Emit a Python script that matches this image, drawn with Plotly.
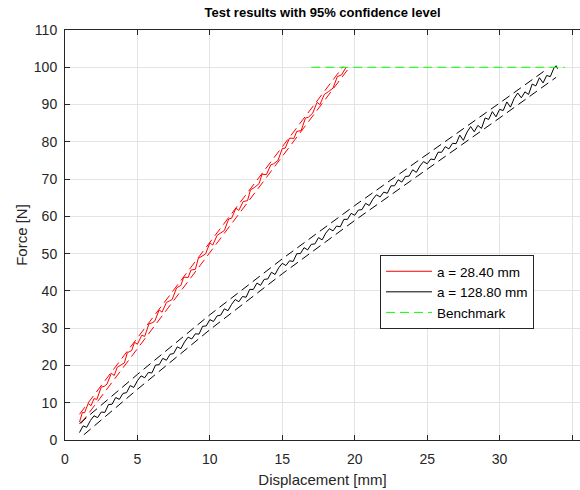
import plotly.graph_objects as go

# ---- data ----
red_x = [1.0, 1.2, 1.35, 1.6, 1.8, 2.0, 2.2, 2.5, 2.7, 2.9, 3.2, 3.4, 3.6, 3.9, 4.1, 4.3, 4.6, 4.8,
         5.0, 5.3, 5.5, 5.8, 6.0, 6.2, 6.5, 6.7, 7.0, 7.2, 7.4, 7.7, 8.0, 8.2, 8.5, 8.7, 9.0, 9.2,
         9.5, 9.7, 10.0, 10.2, 10.5, 10.8, 11.0, 11.3, 11.5, 11.8, 12.0, 12.3, 12.6, 12.8, 13.1,
         13.4, 13.6, 13.9, 14.2, 14.4, 14.7, 15.0, 15.2, 15.5, 15.8, 16.0, 16.3, 16.6, 16.8, 17.1,
         17.4, 17.6, 17.9, 18.2, 18.5, 18.8, 19.1, 19.4]
red_f = [4.8, 7.4, 7.3, 9.8, 9.2, 11.1, 10.9, 14.2, 14.4, 15.0, 17.9, 17.3, 19.5, 20.3, 20.7, 23.4,
         24.0, 26.2, 25.7, 28.1, 27.8, 31.2, 31.4, 31.9, 34.9, 34.3, 36.9, 37.3, 37.7, 40.8, 41.5,
         43.7, 43.6, 45.6, 45.8, 48.7, 49.4, 49.9, 52.9, 52.3, 54.9, 55.8, 56.2, 59.3, 59.5, 62.2,
         61.6, 64.0, 64.2, 67.1, 67.8, 68.8, 71.3, 71.2, 73.8, 74.1, 75.0, 78.2, 78.3, 81.0, 80.9,
         82.8, 83.0, 86.4, 86.6, 87.7, 90.6, 90.0, 92.7, 93.5, 94.4, 97.5, 98.0, 100.0]
red_up_x = [1.0, 19.2]
red_up_f = [6.9, 100.2]
red_lo_x = [1.1, 19.5]
red_lo_f = [4.4, 99.3]

blk_x = [1.00, 1.25, 1.50, 1.75, 2.00, 2.25, 2.50, 2.75, 3.00, 3.25, 3.50, 3.75, 4.00, 4.25, 4.50,
         4.75, 5.00, 5.25, 5.50, 5.75, 6.00, 6.25, 6.50, 6.75, 7.00, 7.25, 7.50, 7.75, 8.00, 8.25,
         8.50, 8.75, 9.00, 9.25, 9.50, 9.75, 10.00, 10.25, 10.50, 10.75, 11.00, 11.25, 11.50, 11.75,
         12.00, 12.25, 12.50, 12.75, 13.00, 13.25, 13.50, 13.75, 14.00, 14.25, 14.50, 14.75, 15.00,
         15.25, 15.50, 15.75, 16.00, 16.25, 16.50, 16.75, 17.00, 17.25, 17.50, 17.75, 18.00, 18.25,
         18.50, 18.75, 19.00, 19.25, 19.50, 19.75, 20.00, 20.25, 20.50, 20.75, 21.00, 21.25, 21.50,
         21.75, 22.00, 22.25, 22.50, 22.75, 23.00, 23.25, 23.50, 23.75, 24.00, 24.25, 24.50, 24.75,
         25.00, 25.25, 25.50, 25.75, 26.00, 26.25, 26.50, 26.75, 27.00, 27.25, 27.50, 27.75, 28.00,
         28.25, 28.50, 28.75, 29.00, 29.25, 29.50, 29.75, 30.00, 30.25, 30.50, 30.75, 31.00, 31.25,
         31.50, 31.75, 32.00, 32.25, 32.50, 32.75, 33.00, 33.25, 33.50, 33.75, 33.90, 34.00]
blk_f = [2.0, 3.8, 3.4, 5.2, 6.5, 6.0, 7.5, 7.4, 9.5, 9.6, 11.4, 10.9, 12.5, 12.7, 14.6, 14.1,
         15.9, 17.2, 16.7, 18.1, 18.0, 20.1, 20.2, 21.9, 21.4, 23.0, 23.2, 25.0, 24.5, 26.3, 27.6,
         27.1, 28.5, 28.4, 30.5, 30.6, 32.3, 31.8, 33.3, 33.5, 35.2, 34.7, 36.4, 37.7, 37.1, 38.5,
         38.3, 40.4, 40.4, 42.1, 41.5, 43.1, 43.2, 45.0, 44.4, 46.2, 47.4, 46.8, 48.1, 47.9, 50.0,
         50.0, 51.6, 51.0, 52.5, 52.6, 54.3, 53.7, 55.5, 56.7, 56.1, 57.4, 57.2, 59.2, 59.2, 60.8,
         60.3, 61.7, 61.8, 63.5, 62.9, 64.6, 65.8, 65.2, 66.5, 66.2, 68.2, 68.2, 69.8, 69.2, 70.7,
         70.8, 72.5, 71.8, 73.5, 74.7, 74.1, 75.4, 75.2, 77.2, 77.2, 78.7, 78.1, 79.6, 79.5, 81.8,
         80.4, 82.6, 84.1, 82.7, 84.4, 83.6, 86.4, 86.0, 88.1, 86.7, 88.7, 88.4, 90.7, 89.3, 91.6,
         93.1, 91.8, 93.4, 92.7, 95.5, 95.0, 97.2, 95.8, 97.8, 97.5, 99.8, 100.4, 99.6]
blk_up_x = [1.0, 5.0, 10.0, 15.0, 20.0, 25.0, 30.0, 33.3]
blk_up_f = [4.4, 17.6, 33.6, 48.6, 62.9, 76.6, 90.4, 99.6]
blk_lo_x = [1.3, 5.0, 10.0, 15.0, 20.0, 25.0, 30.0, 33.9]
blk_lo_f = [1.4, 13.6, 29.6, 44.6, 58.9, 72.6, 86.4, 97.3]

bench_x = [17.0, 34.5]
bench_f = [100.0, 100.0]

names = ["a = 28.40 mm", "a = 128.80 mm", "Benchmark"]
x_ticks = [0, 5, 10, 15, 20, 25, 30, 35]
y_ticks = [0, 10, 20, 30, 40, 50, 60, 70, 80, 90, 100, 110]

DASH = "9px,5px"
fig = go.Figure()
fig.add_trace(go.Scatter(x=red_up_x, y=red_up_f, mode="lines", line=dict(color="#ff0000", width=1, dash=DASH), showlegend=False, hoverinfo="skip"))
fig.add_trace(go.Scatter(x=red_lo_x, y=red_lo_f, mode="lines", line=dict(color="#ff0000", width=1, dash=DASH), showlegend=False, hoverinfo="skip"))
fig.add_trace(go.Scatter(x=blk_up_x, y=blk_up_f, mode="lines", line=dict(color="#000000", width=1, dash=DASH), showlegend=False, hoverinfo="skip"))
fig.add_trace(go.Scatter(x=blk_lo_x, y=blk_lo_f, mode="lines", line=dict(color="#000000", width=1, dash=DASH), showlegend=False, hoverinfo="skip"))
fig.add_trace(go.Scatter(x=red_x, y=red_f, mode="lines", name=names[0], line=dict(color="#ff0000", width=1)))
fig.add_trace(go.Scatter(x=blk_x, y=blk_f, mode="lines", name=names[1], line=dict(color="#000000", width=1)))
fig.add_trace(go.Scatter(x=bench_x, y=bench_f, mode="lines", name=names[2], line=dict(color="#00ff00", width=1, dash=DASH)))

FONT = "Liberation Sans, Arial, Helvetica, sans-serif"
AX = "#262626"
fig.update_layout(
    width=580, height=490,
    margin=dict(l=65, r=0, t=30, b=50),
    paper_bgcolor="white", plot_bgcolor="white",
    font=dict(family=FONT, color=AX, size=14),
    title=dict(text="<b>Test results with 95% confidence level</b>", x=0.5, xref="paper", xanchor="center",
               y=1 - 12 / 490, yref="container", yanchor="middle", font=dict(size=13, color="#000000")),
    legend=dict(x=(380 - 65) / 515, y=(440 - 255) / 410, xanchor="left", yanchor="top",
                bgcolor="white", bordercolor=AX, borderwidth=1, font=dict(size=13.5, color="#000000"),
                tracegroupgap=0, itemwidth=46),
    showlegend=True,
)
fig.update_xaxes(range=[0, 35.55], tickvals=x_ticks, ticks="inside", ticklen=5, tickcolor=AX,
                 showline=True, linecolor=AX, linewidth=1, mirror="ticks", showgrid=True,
                 gridcolor="#e3e3e3", zeroline=False, ticklabelstandoff=6,
                 title=dict(text="Displacement [mm]", font=dict(size=15), standoff=8))
fig.update_yaxes(range=[0, 110], tickvals=y_ticks, ticks="inside", ticklen=5, tickcolor=AX,
                 showline=True, linecolor=AX, linewidth=1, mirror=False, showgrid=True,
                 gridcolor="#e3e3e3", zeroline=False, ticklabelstandoff=4,
                 title=dict(text="Force [N]", font=dict(size=15), standoff=2))

fig.write_html("out.html")
